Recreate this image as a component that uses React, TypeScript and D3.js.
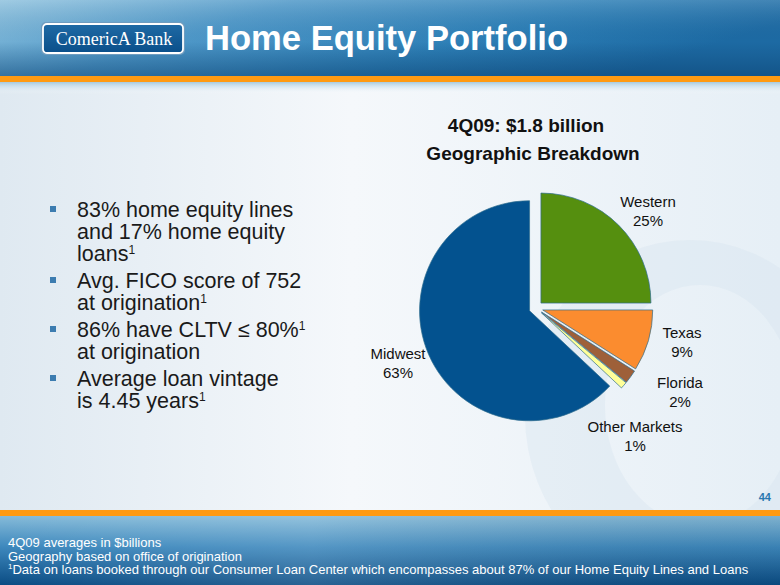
import React from "react";
import * as d3 from "d3";

const regions = ["Western", "Texas", "Florida", "Other Markets", "Midwest"];
const shares = [25, 9, 2, 1, 63];
const colors = ["#558F0F", "#FB8C2F", "#9E6039", "#FFFF99", "#03528F"];
const labelLines = ["Western", "Texas", "Florida", "Other Markets", "Midwest"];

const chartTitle = "4Q09: $1.8 billion";
const chartSubtitle = "Geographic Breakdown";
const slideTitle = "Home Equity Portfolio";

const bullets: { lines: { text: string; sup?: boolean }[] }[] = [
  { lines: [{ text: "83% home equity lines" }, { text: "and 17% home equity" }, { text: "loans", sup: true }] },
  { lines: [{ text: "Avg. FICO score of 752" }, { text: "at origination", sup: true }] },
  { lines: [{ text: "86% have CLTV ≤ 80%", sup: true }, { text: "at origination" }] },
  { lines: [{ text: "Average loan vintage" }, { text: "is 4.45 years", sup: true }] },
];

const footnotes = [
  "4Q09 averages in $billions",
  "Geography based on office of origination",
];
const footnoteSup = "Data on loans booked through our Consumer Loan Center which encompasses about 87% of our Home Equity Lines and Loans";

const W = 780;
const H = 585;

// label anchor positions (center x, baseline y of first line)
const labelPos: Record<string, [number, number]> = {
  Western: [648, 207],
  Texas: [682, 338],
  Florida: [680, 388],
  "Other Markets": [635, 432],
  Midwest: [398, 359],
};

export default function App() {
  const cx = 536;
  const cy = 308;
  const r = 110;
  const explode = 7;
  const data = regions.map((name, i) => ({ name, value: shares[i], color: colors[i] }));
  const pie = d3
    .pie<{ name: string; value: number; color: string }>()
    .sort(null)
    .value((d) => d.value)
    .startAngle(0)
    .endAngle(2 * Math.PI);
  const arcs = pie(data);
  const arc = d3
    .arc<d3.PieArcDatum<{ name: string; value: number; color: string }>>()
    .innerRadius(0)
    .outerRadius(r);

  const font = "Liberation Sans, Arial, Helvetica, sans-serif";

  let y = 217;
  const bulletEls: React.ReactNode[] = [];
  bullets.forEach((b, bi) => {
    b.lines.forEach((ln, li) => {
      if (li === 0) {
        bulletEls.push(
          <rect key={`b${bi}`} x={50} y={y - 11} width={6} height={6} fill="#3C7CB0" />
        );
      }
      bulletEls.push(
        <text key={`t${bi}-${li}`} x={77} y={y} fontSize={21.5} fill="#1a1a1a" fontFamily={font}>
          {ln.text}
          {ln.sup ? (
            <tspan fontSize={12} dy={-7}>1</tspan>
          ) : null}
        </text>
      );
      y += li === b.lines.length - 1 ? 27 : 22;
    });
  });

  return (
    <div style={{ position: "absolute", left: 0, top: 0 }}>
      <svg width={W} height={H} style={{ display: "block" }}>
        <defs>
          <linearGradient id="bg" x1="0" y1="0" x2="1" y2="0">
            <stop offset="0" stopColor="#dfe9f1" />
            <stop offset="0.45" stopColor="#f5f8fb" />
            <stop offset="1" stopColor="#e6eff6" />
          </linearGradient>
          <linearGradient id="hdr" x1="0" y1="0" x2="1" y2="0.3">
            <stop offset="0" stopColor="#8fc2de" />
            <stop offset="0.35" stopColor="#4f98c8" />
            <stop offset="0.7" stopColor="#2d7fb6" />
            <stop offset="1" stopColor="#1d6aa3" />
          </linearGradient>
          <linearGradient id="hdrShade" x1="0" y1="0" x2="0" y2="1">
            <stop offset="0" stopColor="#ffffff" stopOpacity="0.15" />
            <stop offset="0.55" stopColor="#0a3e6e" stopOpacity="0" />
            <stop offset="1" stopColor="#083a68" stopOpacity="0.45" />
          </linearGradient>
          <linearGradient id="hdrShadow" x1="0" y1="0" x2="0" y2="1">
            <stop offset="0" stopColor="#9fc6dc" stopOpacity="0.9" />
            <stop offset="1" stopColor="#ffffff" stopOpacity="0" />
          </linearGradient>
          <linearGradient id="ftr" x1="0" y1="0" x2="0" y2="1">
            <stop offset="0" stopColor="#86bbd9" />
            <stop offset="0.45" stopColor="#3d88bd" />
            <stop offset="1" stopColor="#0b4c84" />
          </linearGradient>
          <linearGradient id="ftrH" x1="0" y1="0" x2="1" y2="0">
            <stop offset="0" stopColor="#ffffff" stopOpacity="0" />
            <stop offset="0.4" stopColor="#ffffff" stopOpacity="0.12" />
            <stop offset="1" stopColor="#000000" stopOpacity="0.05" />
          </linearGradient>
          <linearGradient id="logo" x1="0" y1="0" x2="0" y2="1">
            <stop offset="0" stopColor="#1f6aa5" />
            <stop offset="1" stopColor="#0a4f8a" />
          </linearGradient>
        </defs>

        {/* background */}
        <rect x={0} y={0} width={W} height={H} fill="url(#bg)" />
        {/* watermark */}
        <path
          d={`M ${690} ${240} A 165 175 0 1 0 ${690} ${590} A 165 175 0 1 0 ${690} ${240} Z M ${700} ${285} A 95 120 0 1 1 ${700} ${525} A 95 120 0 1 1 ${700} ${285} Z`}
          fill="#d3e3ee"
          fillRule="evenodd"
          opacity={0.35}
        />

        {/* header */}
        <rect x={0} y={0} width={W} height={76} fill="url(#hdr)" />
        <rect x={0} y={0} width={W} height={76} fill="url(#hdrShade)" />
        <rect x={0} y={76} width={W} height={6} fill="#FF9A12" />
        <rect x={0} y={82} width={W} height={12} fill="url(#hdrShadow)" />

        {/* logo */}
        <rect x={41} y={22} width={144} height={33} rx={5} fill="#6f9cbf" />
        <rect x={43} y={24} width={140} height={29} rx={4} fill="url(#logo)" stroke="#ffffff" strokeWidth={1.8} />
        <text x={114} y={45} textAnchor="middle" fontSize={18} fill="#ffffff" fontFamily="Liberation Serif, Times New Roman, serif">
          ComericA Bank
        </text>
        <text x={205} y={50} fontSize={35} fontWeight="bold" fill="#ffffff" fontFamily={font} textLength={363} lengthAdjust="spacingAndGlyphs">
          {slideTitle}
        </text>

        {/* chart titles */}
        <text x={526} y={132} textAnchor="middle" fontSize={19} fontWeight="bold" fill="#111" fontFamily={font}>
          {chartTitle}
        </text>
        <text x={533} y={160} textAnchor="middle" fontSize={19} fontWeight="bold" fill="#111" fontFamily={font}>
          {chartSubtitle}
        </text>

        {/* pie */}
        <g>
          {arcs.map((a) => {
            const mid = (a.startAngle + a.endAngle) / 2;
            const dx = Math.sin(mid) * explode;
            const dy = -Math.cos(mid) * explode;
            return (
              <path
                key={a.data.name}
                d={arc(a) || ""}
                transform={`translate(${cx + dx},${cy + dy})`}
                fill={a.data.color}
                stroke="#2e6d8e"
                strokeWidth={0.7}
                strokeLinejoin="round"
              />
            );
          })}
        </g>

        {/* pie labels */}
        {arcs.map((a, i) => {
          const [lx, ly] = labelPos[a.data.name];
          return (
            <text key={`l${i}`} textAnchor="middle" fontSize={15} fill="#111" fontFamily={font}>
              <tspan x={lx} y={ly}>{labelLines[i]}</tspan>
              <tspan x={lx} y={ly + 19}>{`${a.data.value}%`}</tspan>
            </text>
          );
        })}

        {/* bullets */}
        {bulletEls}

        {/* page number */}
        <text x={771} y={501} textAnchor="end" fontSize={11} fontWeight="bold" fill="#2a78b0" fontFamily={font}>
          44
        </text>

        {/* footer */}
        <rect x={0} y={510} width={W} height={6} fill="#FF9A12" />
        <rect x={0} y={516} width={W} height={69} fill="url(#ftr)" />
        <rect x={0} y={516} width={W} height={69} fill="url(#ftrH)" />
        {footnotes.map((f, i) => (
          <text key={`f${i}`} x={8} y={547 + i * 13.5} fontSize={13} fill="#ffffff" fontFamily={font}>
            {f}
          </text>
        ))}
        <text x={8} y={574} fontSize={13} fill="#ffffff" fontFamily={font}>
          <tspan fontSize={8} dy={-5}>1</tspan>
          <tspan dy={5}>{footnoteSup}</tspan>
        </text>
      </svg>
    </div>
  );
}
